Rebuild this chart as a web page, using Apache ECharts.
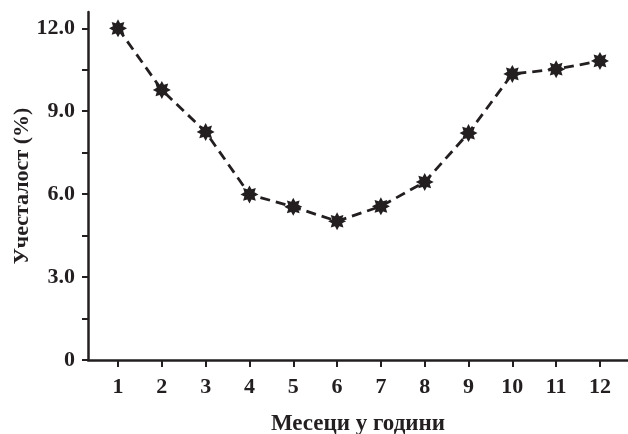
<!DOCTYPE html>
<html>
<head>
<meta charset="utf-8">
<script src="https://cdn.jsdelivr.net/npm/echarts@6/dist/echarts.min.js"></script>
<style>html,body{margin:0;padding:0;background:#fff;}#c{width:628px;height:434px;}</style>
</head>
<body>
<div id="c"></div>
<script>
const months = [1,2,3,4,5,6,7,8,9,10,11,12];
const frequency = [12.0, 9.77, 8.25, 5.99, 5.54, 5.02, 5.56, 6.44, 8.21, 10.35, 10.52, 10.82];
const yTickLabels = [0, 3, 6, 9, 12];
const yTicks = [0, 1.5, 3, 4.5, 6, 7.5, 9, 10.5, 12];
const xName = 'Месеци у години';
const yName = 'Учесталост (%)';

function starPath(n, ro, ri) {
  let d = '';
  for (let i = 0; i < 2 * n; i++) {
    const r = i % 2 === 0 ? ro : ri;
    const a = Math.PI * i / n - Math.PI / 2;
    d += (i === 0 ? 'M' : 'L') + (r * Math.cos(a)).toFixed(3) + ',' + (r * Math.sin(a)).toFixed(3);
  }
  return 'path://' + d + 'Z';
}

const font = 'Liberation Serif';
const ink = '#231f20';
const chart = echarts.init(document.getElementById('c'));
chart.setOption({
  animation: false,
  backgroundColor: '#fff',
  grid: { left: 88, right: 0, top: 12, bottom: 74, containLabel: false, outerBoundsMode: 'none' },
  xAxis: {
    type: 'value', min: 0.315, max: 12.64,
    name: xName, nameLocation: 'middle', nameGap: 53, nameMoveOverlap: false,
    nameTextStyle: { fontFamily: font, fontSize: 23, fontWeight: 'bold', color: ink },
    axisLine: { show: true, lineStyle: { color: ink, width: 2.5 } },
    axisTick: { show: true, length: 7, inside: false, customValues: months, lineStyle: { color: ink, width: 2 } },
    axisLabel: { customValues: months, fontFamily: font, fontSize: 22, fontWeight: 'bold', color: ink, margin: 16 },
    splitLine: { show: false }
  },
  yAxis: {
    type: 'value', min: 0, max: 12.59,
    name: yName, nameLocation: 'middle', nameGap: 55, nameRotate: 90, nameMoveOverlap: false,
    nameTextStyle: { fontFamily: font, fontSize: 22, fontWeight: 'bold', color: ink },
    axisLine: { show: true, lineStyle: { color: ink, width: 2.5 } },
    axisTick: { show: true, length: 6, customValues: yTicks, lineStyle: { color: ink, width: 2 } },
    axisLabel: { customValues: yTickLabels, fontFamily: font, fontSize: 22, fontWeight: 'bold', color: ink, margin: 13,
      formatter: v => v === 0 ? '0' : v.toFixed(1) },
    splitLine: { show: false }
  },
  series: [{
    type: 'line',
    data: months.map((m, i) => [m, frequency[i]]),
    symbol: starPath(8, 9, 5.5),
    symbolSize: 18,
    itemStyle: { color: ink },
    lineStyle: { color: ink, width: 2.8, type: [10, 6] }
  }]
});
</script>
</body>
</html>
